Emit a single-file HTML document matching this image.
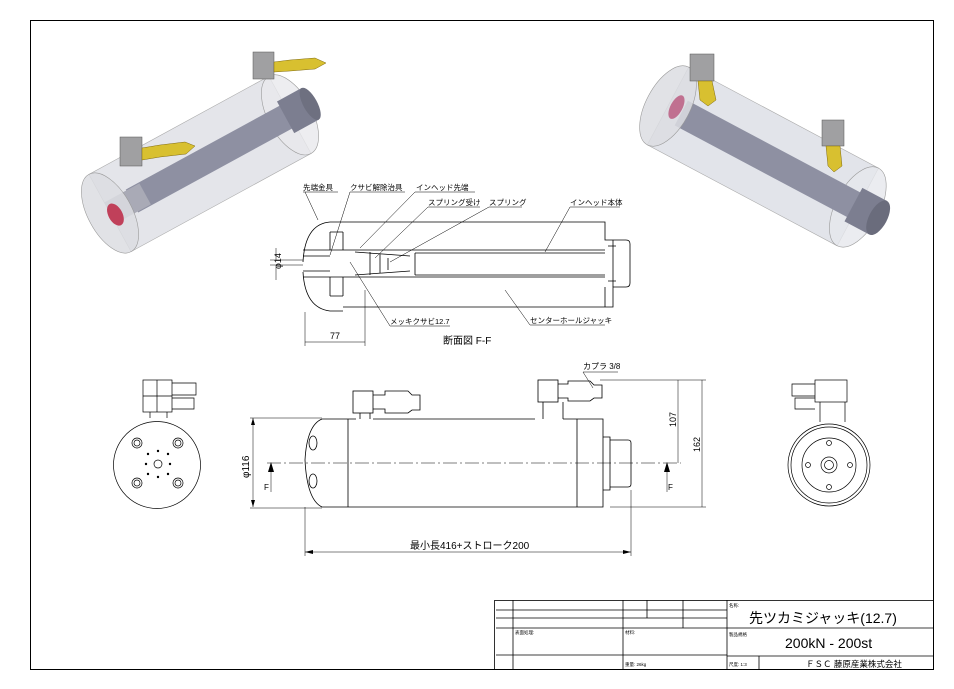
<!DOCTYPE html>
<html><head><meta charset="utf-8"><style>
html,body{margin:0;padding:0;background:#fff}
svg{display:block}
text{font-family:"Liberation Sans","Noto Sans CJK JP",sans-serif;fill:#000}
</style></head><body>
<svg width="954" height="689" viewBox="0 0 954 689" xmlns="http://www.w3.org/2000/svg">
<rect x="0" y="0" width="954" height="689" fill="#fff"/>
<rect x="30.5" y="20.5" width="903" height="649" fill="none" stroke="#000" stroke-width="1"/>

<!-- 3D left -->
<g transform="translate(110,213) rotate(-28.6)">
  <rect x="0" y="-44" width="205" height="88" fill="#e4e5ea" stroke="#aaa" stroke-width="0.6"/>
  <ellipse cx="205" cy="0" rx="22" ry="44" fill="#e8e8ec" stroke="#999" stroke-width="0.6" fill-opacity="0.8"/>
  <rect x="25" y="-13" width="200" height="26" fill="#8e90a2"/>
  <rect x="200" y="-18" width="28" height="36" fill="#7c7e90"/>
  <ellipse cx="228" cy="0" rx="7" ry="18" fill="#6e7080"/>
  <rect x="0" y="-12" width="40" height="24" fill="#a9aab6"/>
  <ellipse cx="0" cy="0" rx="22" ry="44" fill="#dcdde2" stroke="#999" stroke-width="0.6" fill-opacity="0.85"/>
  <ellipse cx="4" cy="4" rx="7" ry="12" fill="#c0405a"/>
</g>
<rect x="120" y="137" width="22" height="29" fill="#a0a0a2" stroke="#555" stroke-width="0.5"/>
<polygon points="142,148 160,145 185,142 195,146 186,154 160,157 142,160" fill="#d8c030" stroke="#806a10" stroke-width="0.5"/>
<rect x="253" y="52" width="21" height="27" fill="#a0a0a2" stroke="#555" stroke-width="0.5"/>
<polygon points="274,62 290,60 315,58 326,63 315,69 290,71 274,72" fill="#d8c030" stroke="#806a10" stroke-width="0.5"/>

<!-- 3D right -->
<g transform="translate(668,106) rotate(28)">
  <rect x="0" y="-44" width="215" height="88" fill="#e2e4ea" stroke="#aaa" stroke-width="0.6"/>
  <ellipse cx="215" cy="0" rx="22" ry="44" fill="#e6e7ec" stroke="#999" stroke-width="0.6" fill-opacity="0.8"/>
  <rect x="15" y="-14" width="220" height="28" fill="#8e90a2"/>
  <rect x="210" y="-19" width="28" height="38" fill="#7c7e90"/>
  <ellipse cx="238" cy="0" rx="9" ry="19" fill="#6a6c7c"/>
  <ellipse cx="0" cy="0" rx="22" ry="44" fill="#dcdde2" stroke="#999" stroke-width="0.6" fill-opacity="0.85"/>
  <ellipse cx="8" cy="-3" rx="6" ry="13" fill="#c07090"/>
</g>
<rect x="690" y="54" width="24" height="27" fill="#a0a0a2" stroke="#555" stroke-width="0.5"/>
<polygon points="698,81 712,81 716,100 708,106 700,100" fill="#d8c030" stroke="#806a10" stroke-width="0.5"/>
<rect x="822" y="120" width="22" height="26" fill="#a0a0a2" stroke="#555" stroke-width="0.5"/>
<polygon points="826,146 840,146 842,166 834,172 828,166" fill="#d8c030" stroke="#806a10" stroke-width="0.5"/>

<!-- Section F-F -->
<g fill="none" stroke="#000" stroke-width="0.8">
  <path d="M343,222 H605 V240 H613 M613,240 H626 Q630,240 630,244 V283 Q630,287 626,287 H613 V307 H343"/>
  <path d="M613,240 V287 M605,287 V307"/>
  <path d="M343,222 H330 Q305,224 303,262 M303,272 Q305,308 330,311 H343"/>
  <path d="M303,250 H605 M303,277 H605"/>
  <path d="M415,253 H605 M415,275 H605 M415,253 V275"/>
  <path d="M330,232 V250 M343,232 V250 M330,277 V296 M343,277 V296 M330,232 H343 M330,296 H343"/>
  <path d="M355,252 L410,256 M355,275 L410,271 M370,252 V275 M380,254 V273 M388,258 V270"/>
  <path d="M303,256 H330 M303,271 H330"/>
  <path d="M608,246 H616 M608,281 H616"/>
</g>
<g stroke="#000" stroke-width="0.5" fill="none">
  <line x1="270" y1="260" x2="303" y2="260"/><line x1="270" y1="265" x2="303" y2="265"/>
  <line x1="276" y1="248" x2="276" y2="260"/><line x1="276" y1="265" x2="276" y2="280"/>
  <line x1="305" y1="312" x2="305" y2="346"/><line x1="365" y1="290" x2="365" y2="346"/>
  <line x1="305" y1="342" x2="365" y2="342"/>
  <path d="M303,192 H338 M350,192 H405 M415,192 H475 M428,207 H480 M489,207 H522 M570,207 H620 M390,326 H450 M530,325 H605"/>
  <path d="M305,192 L318,220 M350,192 L330,255 M415,192 L360,248 M428,207 L375,258 M489,207 L390,262 M570,207 L545,252 M390,326 L350,262 M530,325 L505,290"/>
</g>
<text transform="translate(281,269) rotate(-90)" font-size="9">φ14</text>
<text x="330" y="339" font-size="9">77</text>
<text x="443" y="344" font-size="10">断面図 F-F</text>
<g font-size="7.5">
<text x="303" y="190">先端金具</text><text x="350" y="190">クサビ解除治具</text><text x="416" y="190">インヘッド先端</text>
<text x="428" y="205">スプリング受け</text><text x="489" y="205">スプリング</text><text x="570" y="205">インヘッド本体</text>
<text x="390" y="324">メッキクサビ12.7</text><text x="530" y="323">センターホールジャッキ</text>
</g>

<!-- Side view -->
<g fill="none" stroke="#000" stroke-width="0.8">
  <path d="M348,419 H356 M373,419 H535 M563,419 H603 V507 H348 M348,419 V507"/>
  <path d="M348,419 H322 Q307,425 305,460 Q307,500 322,507 H348"/>
  <path d="M577,419 V507 M603,437 H610 V490 H603 M610,440 H628 Q631,440 631,443 V484 Q631,487 628,487 H610"/>
  <rect x="353" y="391" width="20" height="22"/><path d="M360,413 V419 M370,413 V419"/>
  <path d="M373,395 H385 V391 H408 L412,395 H420 V410 H412 L408,413 H385 V409 H373"/>
  <rect x="538" y="380" width="20" height="22"/><path d="M543,402 V419 M563,402 V419"/>
  <path d="M558,384 H568 V381 H590 L594,385 H602 V398 H594 L590,401 H568 V398 H558"/>
  <ellipse cx="313" cy="443" rx="4" ry="7"/><ellipse cx="313" cy="481" rx="4" ry="7"/>
</g>
<line x1="267" y1="463" x2="681" y2="463" stroke="#000" stroke-width="0.6" stroke-dasharray="14,3,2,3"/>
<g stroke="#000" stroke-width="0.5" fill="none">
  <line x1="253" y1="418" x2="253" y2="507"/><line x1="250" y1="418" x2="322" y2="418"/><line x1="250" y1="508" x2="322" y2="508"/>
  <line x1="305" y1="507" x2="305" y2="556"/><line x1="631" y1="490" x2="631" y2="556"/>
  <line x1="305" y1="552" x2="631" y2="552"/>
  <line x1="600" y1="380" x2="706" y2="380"/><line x1="610" y1="507" x2="706" y2="507"/>
  <line x1="678" y1="380" x2="678" y2="463"/><line x1="702" y1="380" x2="702" y2="507"/>
  <line x1="271" y1="468" x2="271" y2="492"/><line x1="667" y1="468" x2="667" y2="492"/>
  <path d="M583,372 H618 M583,372 L593,388"/>
</g>
<g fill="#000">
  <path d="M271,462 L268,472 L274,472 Z"/><path d="M667,462 L664,472 L670,472 Z"/>
  <path d="M305,552 L313,550 L313,554 Z"/><path d="M631,552 L623,550 L623,554 Z"/>
  <path d="M253,418 L251,425 L255,425 Z"/><path d="M253,507 L251,500 L255,500 Z"/>
</g>
<text x="264" y="490" font-size="8">F</text><text x="668" y="490" font-size="8">F</text>
<text transform="translate(249,478) rotate(-90)" font-size="10">φ116</text>
<text transform="translate(676,427) rotate(-90)" font-size="9">107</text>
<text transform="translate(700,452) rotate(-90)" font-size="9">162</text>
<text x="410" y="549" font-size="10">最小長416+ストローク200</text>
<text x="583" y="369" font-size="8">カプラ 3/8</text>

<!-- Left end view -->
<g fill="none" stroke="#000" stroke-width="0.7">
  <circle cx="157" cy="465" r="43.5"/>
  <circle cx="137" cy="443" r="5"/><circle cx="137" cy="443" r="3"/>
  <circle cx="178" cy="443" r="5"/><circle cx="178" cy="443" r="3"/>
  <circle cx="137" cy="483" r="5"/><circle cx="137" cy="483" r="3"/>
  <circle cx="178" cy="483" r="5"/><circle cx="178" cy="483" r="3"/>
  <circle cx="158" cy="464" r="4"/>
  <rect x="143" y="380" width="29" height="32"/><path d="M157,380 V412 M143,396 H172 M150,412 V418 M167,412 V418"/>
  <path d="M172,383 H196 V395 H172 M172,398 H194 V409 H172"/>
</g>
<g fill="#000"><circle cx="148" cy="454" r="1.2"/><circle cx="158" cy="451" r="1.2"/><circle cx="168" cy="454" r="1.2"/><circle cx="146" cy="464" r="1.2"/><circle cx="170" cy="464" r="1.2"/><circle cx="148" cy="474" r="1.2"/><circle cx="158" cy="477" r="1.2"/><circle cx="168" cy="474" r="1.2"/></g>

<!-- Right end view -->
<g fill="none" stroke="#000" stroke-width="0.7">
  <circle cx="829" cy="465" r="41"/><circle cx="829" cy="465" r="38"/>
  <circle cx="829" cy="465" r="27"/>
  <circle cx="829" cy="465" r="8"/><circle cx="829" cy="465" r="4.5"/>
  <circle cx="829" cy="443" r="2.5"/><circle cx="829" cy="487" r="2.5"/><circle cx="808" cy="465" r="2.5"/><circle cx="850" cy="465" r="2.5"/>
  <rect x="815" y="380" width="32" height="22"/><path d="M820,402 V422 M845,402 V422"/>
  <path d="M815,384 H792 V396 H815 M815,398 H795 V409 H815"/>
</g>

<!-- Title block -->
<g fill="none" stroke="#000" stroke-width="0.8">
  <rect x="494.5" y="600.5" width="439" height="69"/>
  <path d="M727,600 V670 M496,610 H727 M496,618 H727 M496,628 H727 M727,628 H934 M496,655 H727 M727,656 H934"/>
  <path d="M513,600 V670 M623,600 V628 M647,600 V618 M683,600 V628 M623,628 V670 M759,656 V670"/>
</g>
<g font-size="4.5"><text x="729" y="607">名称:</text><text x="515" y="634">表面処理:</text><text x="625" y="634">材料:</text><text x="729" y="636">製品規格</text><text x="625" y="666">重量: 26kg</text><text x="729" y="666">尺度: 1:3</text></g>
<text x="749" y="623" font-size="14">先ツカミジャッキ(12.7)</text>
<text x="785" y="648" font-size="14">200kN - 200st</text>
<text x="806" y="667" font-size="8.5">ＦＳＣ 藤原産業株式会社</text>
</svg>
</body></html>
